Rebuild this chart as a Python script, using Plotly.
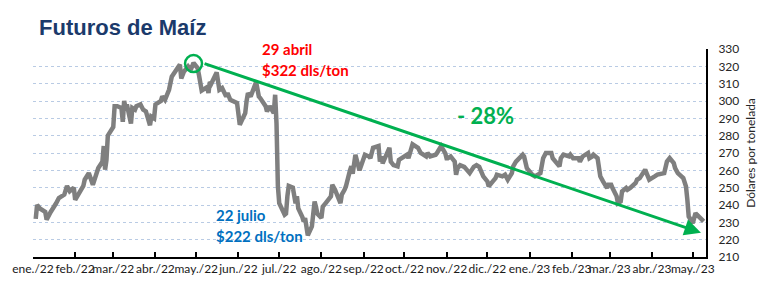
import plotly.graph_objects as go

dates = [
    "2022-01-03", "2022-01-04", "2022-01-06", "2022-01-10", "2022-01-11", "2022-01-13", "2022-01-14",
    "2022-01-18", "2022-01-20", "2022-01-24", "2022-01-26", "2022-01-28", "2022-01-31", "2022-02-01",
    "2022-02-04", "2022-02-07", "2022-02-08", "2022-02-10", "2022-02-11", "2022-02-14", "2022-02-16",
    "2022-02-18", "2022-02-21", "2022-02-22", "2022-02-23", "2022-02-24", "2022-02-25", "2022-03-01",
    "2022-03-02", "2022-03-04", "2022-03-07", "2022-03-08", "2022-03-09", "2022-03-10", "2022-03-11",
    "2022-03-14", "2022-03-15", "2022-03-17", "2022-03-18", "2022-03-21", "2022-03-23", "2022-03-25",
    "2022-03-28", "2022-03-29", "2022-03-31", "2022-04-01", "2022-04-05", "2022-04-06", "2022-04-08",
    "2022-04-11", "2022-04-13", "2022-04-18", "2022-04-19", "2022-04-20", "2022-04-22", "2022-04-25",
    "2022-04-27", "2022-04-29", "2022-05-02", "2022-05-03", "2022-05-04", "2022-05-05", "2022-05-09",
    "2022-05-10", "2022-05-11", "2022-05-12", "2022-05-16", "2022-05-17", "2022-05-18", "2022-05-20",
    "2022-05-23", "2022-05-24", "2022-05-26", "2022-05-31", "2022-06-01", "2022-06-02", "2022-06-03",
    "2022-06-06", "2022-06-07", "2022-06-08", "2022-06-10", "2022-06-13", "2022-06-14", "2022-06-16",
    "2022-06-17", "2022-06-21", "2022-06-22", "2022-06-24", "2022-06-27", "2022-06-28", "2022-06-29",
    "2022-06-30", "2022-07-01", "2022-07-05", "2022-07-06", "2022-07-07", "2022-07-08", "2022-07-11",
    "2022-07-12", "2022-07-13", "2022-07-14", "2022-07-15", "2022-07-18", "2022-07-19", "2022-07-20",
    "2022-07-22", "2022-07-25", "2022-07-26", "2022-07-27", "2022-07-28", "2022-07-29", "2022-08-01",
    "2022-08-02", "2022-08-04", "2022-08-08", "2022-08-09", "2022-08-11", "2022-08-15", "2022-08-16",
    "2022-08-18", "2022-08-19", "2022-08-22", "2022-08-23", "2022-08-24", "2022-08-26", "2022-08-29",
    "2022-08-31", "2022-09-02", "2022-09-05", "2022-09-06", "2022-09-08", "2022-09-12", "2022-09-13",
    "2022-09-14", "2022-09-15", "2022-09-19", "2022-09-20", "2022-09-21", "2022-09-23", "2022-09-26",
    "2022-09-27", "2022-09-29", "2022-10-03", "2022-10-04", "2022-10-06", "2022-10-07", "2022-10-11",
    "2022-10-13", "2022-10-17", "2022-10-18", "2022-10-20", "2022-10-24", "2022-10-25", "2022-10-28",
    "2022-10-31", "2022-11-01", "2022-11-02", "2022-11-04", "2022-11-07", "2022-11-08", "2022-11-09",
    "2022-11-11", "2022-11-14", "2022-11-17", "2022-11-18", "2022-11-21", "2022-11-23", "2022-11-25",
    "2022-11-28", "2022-12-01", "2022-12-02", "2022-12-05", "2022-12-07", "2022-12-08", "2022-12-12",
    "2022-12-14", "2022-12-16", "2022-12-19", "2022-12-20", "2022-12-22", "2022-12-27", "2022-12-28",
    "2022-12-29", "2022-12-30", "2023-01-03", "2023-01-05", "2023-01-09", "2023-01-10", "2023-01-11",
    "2023-01-13", "2023-01-17", "2023-01-18", "2023-01-20", "2023-01-23", "2023-01-24", "2023-01-26",
    "2023-01-30", "2023-01-31", "2023-02-02", "2023-02-06", "2023-02-07", "2023-02-09", "2023-02-13",
    "2023-02-14", "2023-02-16", "2023-02-17", "2023-02-20", "2023-02-21", "2023-02-22", "2023-02-24",
    "2023-02-27", "2023-02-28", "2023-03-02", "2023-03-03", "2023-03-06", "2023-03-07", "2023-03-09",
    "2023-03-10", "2023-03-13", "2023-03-14", "2023-03-16", "2023-03-20", "2023-03-21", "2023-03-23",
    "2023-03-24", "2023-03-27", "2023-03-28", "2023-03-30", "2023-04-03", "2023-04-05", "2023-04-10",
    "2023-04-11", "2023-04-12", "2023-04-14", "2023-04-17", "2023-04-18", "2023-04-20", "2023-04-24",
    "2023-04-25", "2023-04-26", "2023-04-27", "2023-04-28", "2023-05-01", "2023-05-02", "2023-05-03",
    "2023-05-04", "2023-05-08", "2023-05-09",
]

prices = [
    232.0, 240.0, 238.0, 236.0, 231.5, 235.0, 236.0,
    241.0, 244.0, 246.0, 251.0, 248.0, 250.0, 243.0,
    247.0, 251.0, 254.6, 257.5, 258.4, 251.7, 256.5,
    261.3, 265.0, 274.0, 260.4, 266.0, 280.0, 285.0,
    297.0, 297.0, 296.0, 288.0, 300.0, 296.0, 298.0,
    287.0, 296.0, 295.0, 297.0, 298.0, 295.0, 294.0,
    286.0, 291.0, 290.0, 298.0, 300.0, 302.6, 300.7,
    306.5, 314.0, 320.0, 321.0, 313.0, 317.0, 320.0,
    318.0, 322.0, 319.0, 315.0, 311.0, 306.0, 308.0,
    304.6, 311.0, 310.0, 316.5, 308.0, 306.5, 307.5,
    302.6, 304.6, 300.7, 298.8, 293.0, 286.3, 288.0,
    293.0, 300.0, 304.6, 302.6, 308.4, 311.0, 302.6,
    301.7, 297.0, 294.0, 297.0, 293.0, 303.6, 287.0,
    251.0, 241.0, 234.4, 235.0, 245.0, 251.0, 250.0,
    243.0, 241.0, 245.0, 238.0, 233.0, 230.5, 232.5,
    222.5, 227.6, 235.0, 242.0, 239.0, 235.0, 232.5,
    239.0, 241.0, 245.0, 251.7, 248.8, 241.0, 246.0,
    248.8, 250.7, 260.0, 262.3, 258.0, 269.0, 260.0,
    265.0, 269.0, 268.0, 267.0, 273.0, 274.0, 265.0,
    268.0, 264.0, 272.0, 273.0, 265.0, 263.0, 262.3,
    266.0, 267.0, 269.0, 267.0, 274.0, 275.0, 273.0,
    270.0, 268.0, 270.0, 268.0, 269.0, 270.0, 274.0,
    270.0, 267.0, 267.0, 268.0, 265.0, 257.5, 261.0,
    263.0, 262.0, 259.4, 258.4, 262.0, 263.0, 262.0,
    256.5, 253.6, 250.7, 253.6, 255.5, 257.5, 256.5,
    257.5, 254.6, 258.4, 262.3, 265.0, 269.0, 268.0,
    265.0, 261.3, 257.5, 256.5, 258.4, 264.0, 267.0,
    270.0, 270.0, 267.0, 265.0, 262.3, 267.0, 269.0,
    268.0, 269.0, 267.0, 267.0, 265.0, 268.0, 270.0,
    267.0, 268.0, 269.0, 267.0, 258.4, 256.5, 253.6,
    249.8, 251.7, 251.7, 249.8, 245.0, 241.0, 242.0,
    247.8, 249.8, 248.8, 249.8, 252.7, 254.6, 255.5,
    256.5, 260.4, 258.4, 254.6, 256.5, 257.5, 258.4,
    263.2, 265.1, 267.1, 264.2, 261.3, 258.4, 255.5,
    251.7, 250.7, 243.0, 233.4, 229.6, 233.4, 235.3,
    234.4, 231.5, 230.5,
]

month_ticks = [
    "2022-01-01", "2022-02-01", "2022-03-01", "2022-04-01", "2022-05-01", "2022-06-01",
    "2022-07-01", "2022-08-01", "2022-09-01", "2022-10-01", "2022-11-01", "2022-12-01",
    "2023-01-01", "2023-02-01", "2023-03-01", "2023-04-01", "2023-05-01",
]
month_labels = [
    "ene./22", "feb./22", "mar./22", "abr./22", "may./22", "jun./22", "jul./22", "ago./22",
    "sep./22", "oct./22", "nov./22", "dic./22", "ene./23", "feb./23", "mar./23", "abr./23", "may./23",
]

peak_date, peak_value = "2022-04-29", 322
low_date, low_value = "2022-07-22", 222

GREEN = "#00b050"
FONT = "Lato"

fig = go.Figure()
fig.add_trace(go.Scatter(
    x=dates, y=prices, mode="lines",
    line=dict(color="#7f7f7f", width=4.5),
    hoverinfo="skip", showlegend=False,
))

fig.update_layout(
    width=768, height=290,
    margin=dict(l=31, r=50, t=49, b=33),
    paper_bgcolor="white", plot_bgcolor="white",
    font=dict(family=FONT, size=12, color="#262626"),
    title=dict(
        text="<b>Futuros de Maíz</b>", xref="container", yref="container",
        x=39 / 768, xanchor="left", y=1 - 27 / 290, yanchor="middle",
        font=dict(family="Liberation Sans", size=22, color="#1b3a6b"),
    ),
    xaxis=dict(
        type="date", range=["2022-01-01", "2023-05-10 17:00"],
        tickmode="array", tickvals=month_ticks, ticktext=month_labels,
        tickangle=0,
        ticks="inside", ticklen=5, tickwidth=2, tickcolor="black",
        showline=True, linecolor="black", linewidth=2,
        showgrid=False, zeroline=False,
        tickfont=dict(family=FONT, size=12, color="#1a1a1a"),
    ),
    yaxis=dict(
        side="right", range=[210, 330], dtick=10, tick0=210,
        showgrid=True, gridcolor="#b9cbe4", griddash="dot", gridwidth=1,
        showline=True, linecolor="black", linewidth=2,
        ticks="", ticklabelstandoff=8, zeroline=False,
        tickfont=dict(family=FONT, size=12, color="#262626"),
        title=dict(text="Dólares por tonelada", standoff=8,
                   font=dict(family=FONT, size=12, color="#262626")),
    ),
)

# circle around the peak
fig.add_shape(
    type="circle", xref="x", yref="y",
    xsizemode="pixel", ysizemode="pixel",
    xanchor=peak_date, yanchor=321.6,
    x0=-8.5, x1=8.5, y0=-8.5, y1=8.5,
    line=dict(color=GREEN, width=2.5),
)

# trend arrow
fig.add_annotation(
    x="2023-05-07", y=224, xref="x", yref="y",
    ax="2022-05-06", ay=321.9, axref="x", ayref="y",
    text="", showarrow=True, arrowhead=2, arrowsize=1.1,
    arrowwidth=3, arrowcolor=GREEN,
)

fig.add_annotation(x="2022-06-17", y=1.0, xref="x", yref="paper", xanchor="left",
                   yanchor="middle",
                   text="<b>29 abril</b>", showarrow=False,
                   font=dict(family=FONT, size=15, color="#ff0000"))
fig.add_annotation(x="2022-06-17", y=318, xref="x", yref="y", xanchor="left",
                   text=f"<b>${peak_value} dls/ton</b>", showarrow=False,
                   font=dict(family=FONT, size=15, color="#ff0000"))
fig.add_annotation(x="2022-05-14", y=234.4, xref="x", yref="y", xanchor="left",
                   text="<b>22 julio</b>", showarrow=False,
                   font=dict(family=FONT, size=15, color="#0070c0"))
fig.add_annotation(x="2022-05-14", y=222.3, xref="x", yref="y", xanchor="left",
                   text=f"<b>${low_value} dls/ton</b>", showarrow=False,
                   font=dict(family=FONT, size=15, color="#0070c0"))
fig.add_annotation(x="2022-11-07", y=291.5, xref="x", yref="y", xanchor="left",
                   text="<b>- 28%</b>", showarrow=False,
                   font=dict(family=FONT, size=22, color=GREEN))

fig.write_html("out.html")
